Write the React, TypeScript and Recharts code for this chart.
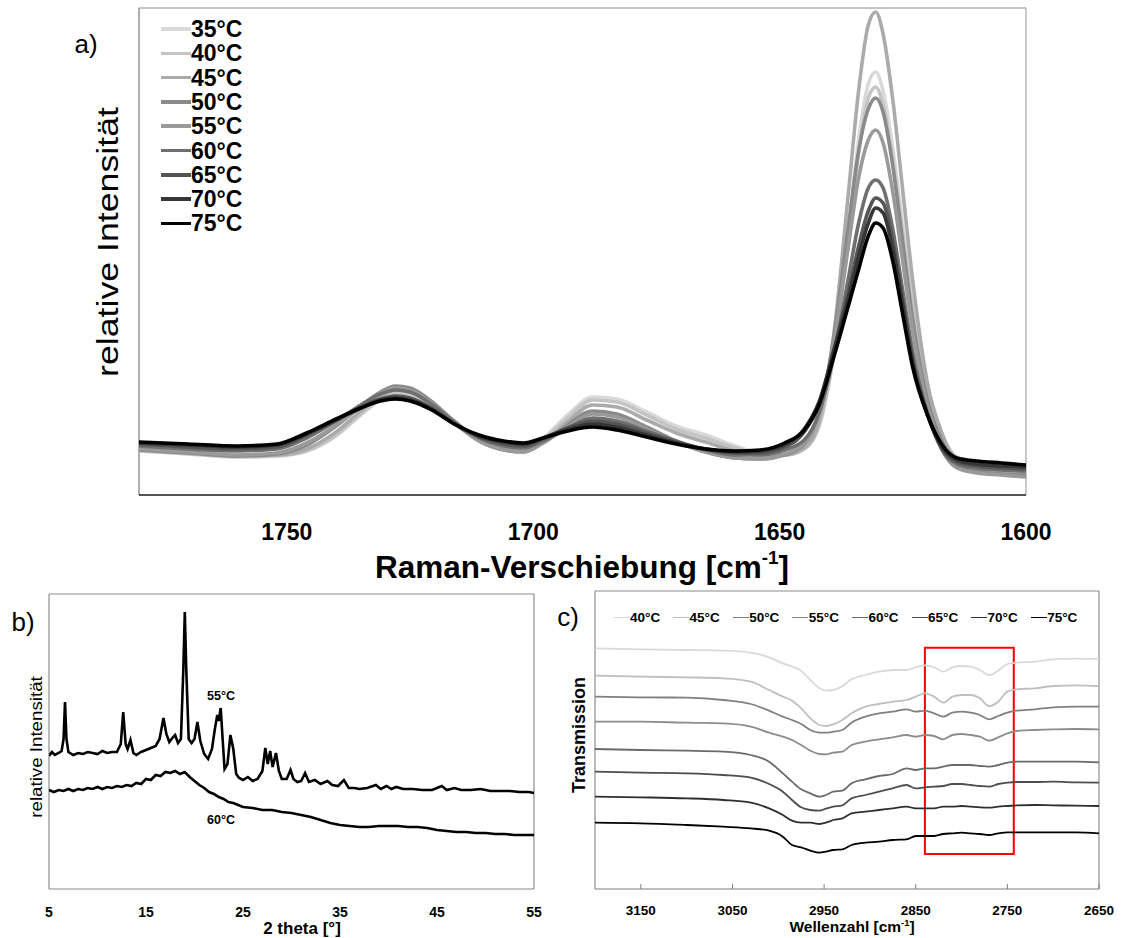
import React from 'react';
import { LineChart, Line, XAxis, YAxis, ReferenceLine, ReferenceArea } from 'recharts';

const FONT = '"Liberation Sans", Arial, Helvetica, sans-serif';

// ---------- Panel a: Raman ----------
const RAMAN_X = [1780, 1770, 1760, 1752, 1746, 1740, 1735, 1731, 1728, 1725, 1721, 1716, 1711, 1706, 1702, 1698, 1693, 1688, 1683, 1677, 1671, 1665, 1659, 1654, 1649, 1645, 1642, 1639, 1636, 1634, 1632, 1630.5, 1629, 1627, 1625, 1623, 1620, 1617, 1614, 1610, 1605, 1600];
const RAMAN_35 = [46, 43, 40, 40, 44, 59, 80, 95, 101, 100, 91, 72, 55, 47, 46, 57, 80, 98, 96, 83, 69, 60, 49, 42, 40, 46, 69, 142, 265, 354, 411, 423, 404, 346, 269, 192, 103, 59, 38, 31, 28, 27];
const RAMAN_40 = [44, 41, 38, 39, 44, 60, 81, 96, 102, 101, 92, 73, 55, 46, 45, 55, 77, 95, 93, 80, 66, 57, 47, 41, 40, 46, 69, 141, 260, 341, 397, 408, 390, 334, 260, 185, 100, 57, 36, 29, 26, 25];
const RAMAN_45 = [45, 42, 39, 40, 46, 63, 84, 99, 105, 104, 94, 74, 55, 46, 44, 53, 73, 90, 88, 75, 62, 53, 44, 40, 40, 47, 74, 161, 304, 403, 470, 483, 461, 394, 304, 215, 112, 61, 34, 26, 23, 22];
const RAMAN_50 = [45, 42, 39, 41, 50, 69, 89, 103, 109, 107, 95, 73, 54, 45, 43, 52, 70, 84, 81, 68, 54, 43, 37, 36, 40, 51, 82, 158, 270, 343, 386, 397, 383, 328, 252, 176, 95, 53, 30, 24, 21, 20];
const RAMAN_55 = [46, 43, 40, 42, 52, 70, 89, 102, 107, 105, 93, 72, 54, 45, 43, 52, 68, 81, 78, 66, 53, 43, 37, 36, 41, 52, 81, 151, 250, 316, 355, 365, 352, 302, 233, 164, 89, 45, 27, 22, 20, 18];
const RAMAN_60 = [49, 46, 44, 46, 57, 74, 90, 101, 105, 103, 92, 73, 57, 49, 47, 54, 67, 77, 74, 64, 54, 45, 40, 40, 45, 55, 82, 140, 218, 271, 307, 315, 307, 265, 204, 143, 82, 45, 31, 27, 25, 24];
const RAMAN_65 = [51, 48, 46, 48, 60, 75, 88, 96, 99, 97, 88, 71, 58, 51, 49, 56, 67, 74, 71, 62, 53, 46, 42, 42, 48, 63, 91, 145, 204, 248, 284, 297, 292, 253, 194, 135, 81, 46, 33, 29, 27, 26];
const RAMAN_70 = [52, 50, 48, 50, 61, 75, 87, 95, 97, 95, 87, 71, 59, 53, 51, 57, 66, 71, 68, 60, 52, 46, 43, 44, 50, 66, 93, 144, 198, 238, 272, 287, 282, 245, 189, 132, 80, 48, 35, 31, 29, 28];
const RAMAN_75 = [53, 51, 49, 51, 62, 76, 87, 94, 96, 94, 86, 71, 60, 54, 52, 57, 64, 68, 65, 58, 51, 46, 44, 45, 52, 65, 90, 138, 190, 225, 259, 272, 267, 233, 180, 128, 80, 50, 37, 34, 32, 30];
const RAMAN_LABELS = ['35°C', '40°C', '45°C', '50°C', '55°C', '60°C', '65°C', '70°C', '75°C'];
const RAMAN_COLORS = ['#d9d9d9', '#c4c4c4', '#ababab', '#8a8a8a', '#9a9a9a', '#6f6f6f', '#555555', '#363636', '#000000'];
const RAMAN_VALUES = [RAMAN_35, RAMAN_40, RAMAN_45, RAMAN_50, RAMAN_55, RAMAN_60, RAMAN_65, RAMAN_70, RAMAN_75];
const RAMAN_TICKS = [1750, 1700, 1650, 1600];

const ramanData = RAMAN_X.map((x, i) => {
  const row: Record<string, number> = { x };
  RAMAN_VALUES.forEach((vals, k) => { row['s' + k] = vals[i]; });
  return row;
});

// ---------- Panel b: XRD ----------
const XRD55_X = [5.0, 5.3, 5.6, 6.0, 6.3, 6.5, 6.65, 6.8, 7.0, 7.5, 8.0, 8.5, 9.0, 9.5, 10.0, 10.5, 11.0, 11.5, 12.0, 12.4, 12.65, 12.9, 13.1, 13.4, 13.7, 14.0, 14.5, 15.0, 15.5, 16.0, 16.4, 16.8, 17.1, 17.4, 17.8, 18.0, 18.3, 18.6, 18.85, 19.0, 19.15, 19.4, 19.7, 20.0, 20.3, 20.6, 21.0, 21.4, 21.8, 22.1, 22.35, 22.5, 22.7, 22.9, 23.1, 23.4, 23.7, 24.0, 24.3, 24.6, 25.0, 25.5, 26.0, 26.5, 27.0, 27.3, 27.55, 27.8, 28.05, 28.4, 28.7, 29.0, 29.5, 29.9, 30.2, 30.6, 31.0, 31.4, 31.8, 32.4, 33.0, 33.7, 34.2, 34.8, 35.4, 35.9, 36.5, 37.0, 37.8, 38.7, 39.2, 39.8, 40.3, 40.8, 41.5, 42.5, 43.5, 44.5, 45.5, 46.0, 46.8, 47.5, 48.5, 49.5, 50.5, 51.5, 52.5, 53.5, 54.5, 55.0];
const XRD55_Y = [133, 137, 134, 136, 138, 150, 187, 150, 137, 134, 136, 135, 137, 136, 135, 138, 136, 137, 137, 145, 177, 145, 140, 149, 136, 134, 137, 139, 141, 143, 150, 171, 155, 147, 152, 154, 146, 150, 220, 277, 220, 150, 146, 150, 167, 148, 135, 130, 140, 160, 174, 168, 181, 150, 120, 125, 154, 140, 115, 111, 109, 112, 108, 110, 118, 141, 125, 138, 122, 136, 118, 110, 110, 119, 110, 107, 108, 116, 107, 109, 105, 108, 104, 103, 109, 101, 101, 100, 101, 104, 100, 103, 100, 102, 100, 100, 99, 99, 103, 99, 101, 99, 99, 100, 98, 98, 98, 97, 97, 96];
const XRD60_X = [5, 5.5, 6, 6.5, 7, 7.5, 8, 8.5, 9, 9.5, 10, 10.5, 11, 11.5, 12, 12.5, 13, 13.5, 14, 14.5, 15, 15.5, 16, 16.5, 17, 17.5, 18, 18.5, 19, 19.5, 20, 20.5, 21, 21.5, 22, 22.5, 23, 23.5, 24, 25, 26, 27, 28, 29, 30, 31, 32, 33, 34, 35, 36, 37, 38, 39, 40, 41, 42, 43, 44, 45, 46, 47, 48, 49, 50, 51, 52, 53, 54, 55];
const XRD60_Y = [99, 97, 99, 98, 100, 98, 100, 99, 101, 100, 102, 100, 102, 101, 103, 102, 104, 103, 106, 105, 110, 109, 114, 113, 117, 116, 118, 115, 117, 112, 108, 104, 101, 97, 95, 92, 90, 87, 86, 82, 81, 79, 79, 77, 76, 74, 72, 69, 66, 64, 63, 62, 62, 63, 63, 63, 62, 62, 61, 59, 58, 57, 57, 56, 56, 55, 55, 54, 54, 54];
const XRD_TICKS = [5, 15, 25, 35, 45, 55];

const xrd55 = XRD55_X.map((x, i) => ({ x, y: XRD55_Y[i] }));
const xrd60 = XRD60_X.map((x, i) => ({ x, y: XRD60_Y[i] }));

// ---------- Panel c: FTIR ----------
const FTIR_X = [3200, 3150, 3100, 3060, 3030, 3010, 2995, 2985, 2975, 2965, 2955, 2948, 2940, 2930, 2920, 2905, 2890, 2875, 2860, 2850, 2840, 2830, 2820, 2810, 2800, 2790, 2780, 2770, 2760, 2750, 2740, 2720, 2700, 2675, 2650];
const FTIR_40 = [722, 719, 717, 715, 709, 695, 677, 667, 655, 627, 602, 595, 597, 609, 629, 642, 652, 657, 657, 665, 671, 665, 652, 665, 669, 667, 657, 642, 655, 675, 679, 682, 689, 691, 690];
const FTIR_45 = [640, 637, 635, 632, 622, 597, 577, 565, 542, 512, 492, 489, 494, 507, 527, 547, 555, 562, 567, 577, 587, 577, 559, 577, 582, 582, 572, 549, 562, 592, 599, 602, 609, 611, 609];
const FTIR_50 = [577, 575, 574, 567, 555, 535, 517, 507, 495, 477, 469, 469, 472, 477, 499, 517, 527, 532, 539, 532, 535, 527, 517, 529, 532, 529, 522, 509, 519, 529, 535, 539, 545, 547, 547];
const FTIR_55 = [502, 502, 499, 497, 487, 469, 457, 447, 432, 415, 405, 404, 409, 412, 432, 442, 449, 455, 462, 457, 462, 459, 449, 462, 465, 462, 457, 445, 455, 467, 474, 477, 479, 480, 479];
const FTIR_60 = [420, 417, 415, 412, 402, 382, 347, 322, 299, 287, 277, 282, 292, 295, 317, 329, 339, 345, 362, 357, 362, 362, 367, 372, 372, 372, 369, 367, 372, 379, 382, 382, 382, 382, 380];
const FTIR_65 = [352, 349, 347, 342, 334, 315, 292, 267, 245, 237, 235, 241, 247, 251, 272, 282, 292, 302, 312, 302, 305, 307, 309, 315, 315, 312, 309, 307, 315, 319, 321, 321, 322, 320, 319];
const FTIR_70 = [277, 275, 272, 267, 259, 242, 222, 205, 199, 199, 195, 199, 207, 212, 227, 232, 237, 242, 247, 242, 242, 242, 247, 247, 249, 247, 245, 244, 247, 249, 251, 252, 251, 250, 249];
const FTIR_75 = [199, 197, 192, 187, 182, 175, 157, 132, 125, 115, 109, 112, 117, 119, 132, 139, 142, 147, 149, 159, 159, 159, 165, 167, 169, 167, 165, 162, 167, 170, 170, 170, 170, 170, 167];
const FTIR_LABELS = ['40°C', '45°C', '50°C', '55°C', '60°C', '65°C', '70°C', '75°C'];
const FTIR_COLORS = ['#d9d9d9', '#bfbfbf', '#808080', '#8c8c8c', '#6a6a6a', '#4d4d4d', '#2f2f2f', '#000000'];
const FTIR_VALUES = [FTIR_40, FTIR_45, FTIR_50, FTIR_55, FTIR_60, FTIR_65, FTIR_70, FTIR_75];
const FTIR_TICKS = [3150, 3050, 2950, 2850, 2750, 2650];
const RED_BOX = { from: 2840, to: 2743, low: 105, high: 724 };

const ftirData = FTIR_X.map((x, i) => {
  const row: Record<string, number> = { x };
  FTIR_VALUES.forEach((vals, k) => { row['s' + k] = vals[i]; });
  return row;
});

const FtirTick = (props: any) => {
  const { x, y, payload } = props;
  const axisY = y - 16;
  return (
    <g>
      <line x1={x} x2={x} y1={axisY} y2={axisY - 5} stroke="#808080" strokeWidth={1} />
      <text x={x} y={y} dy="0.71em" textAnchor="middle" fill="#000" fontSize={13.5} fontWeight={700} fontFamily={FONT}>
        {payload.value}
      </text>
    </g>
  );
};

const abs = (left: number, top: number, extra: React.CSSProperties = {}): React.CSSProperties => ({
  position: 'absolute', left, top, transform: 'translate(-50%, -50%)', whiteSpace: 'nowrap', lineHeight: 1, fontFamily: FONT, color: '#000', ...extra,
});

export default function App() {
  return (
    <div style={{ position: 'absolute', left: 0, top: 0, width: 1121, height: 938, background: '#fff', overflow: 'hidden', fontFamily: FONT }}>
      {/* Panel a */}
      <div style={{ position: 'absolute', left: 0, top: 0 }}>
        <LineChart width={1121} height={600} data={ramanData} margin={{ top: 8, right: 95, bottom: 45, left: 139 }}>
          <XAxis dataKey="x" type="number" domain={[1600, 1780]} reversed ticks={RAMAN_TICKS} interval={0}
            tickLine={false} tickSize={0} tickMargin={29} height={60} allowDataOverflow
            axisLine={{ stroke: '#1a1a1a', strokeWidth: 1.5 }}
            tick={{ fill: '#000', fontSize: 23, fontWeight: 700, fontFamily: FONT }} />
          <YAxis type="number" domain={[0, 487]} hide allowDataOverflow />
          <ReferenceLine y={487} stroke="#8c8c8c" strokeWidth={1.2} />
          <ReferenceLine x={1780} stroke="#7a7a7a" strokeWidth={1.2} />
          <ReferenceLine x={1600} stroke="#a6a6a6" strokeWidth={1.2} />
          {RAMAN_VALUES.map((_, k) => (
            <Line key={k} type="monotone" dataKey={'s' + k} stroke={RAMAN_COLORS[k]} strokeWidth={3.6}
              dot={false} isAnimationActive={false} />
          ))}
        </LineChart>
      </div>
      {RAMAN_LABELS.map((lab, k) => (
        <React.Fragment key={lab}>
          <div style={{ position: 'absolute', left: 161, top: 29 + k * 24.3 - 1.8, width: 30, height: 3.6, background: RAMAN_COLORS[k] }} />
          <div style={{ position: 'absolute', left: 191, top: 29 + k * 24.3, transform: 'translateY(-50%)', fontSize: 23, fontWeight: 700, lineHeight: 1, fontFamily: FONT, whiteSpace: 'nowrap' }}>{lab}</div>
        </React.Fragment>
      ))}
      <div style={abs(86, 44, { fontSize: 26 })}>a)</div>
      <div style={abs(108, 242, { fontSize: 30, transform: 'translate(-50%, -50%) rotate(-90deg) scaleX(1.19)' })}>relative Intensität</div>
      <div style={abs(582, 568, { fontSize: 31.5, fontWeight: 700 })}>
        Raman-Verschiebung [cm<span style={{ fontSize: '0.6em', position: 'relative', top: '-0.75em' }}>-1</span>]
      </div>

      {/* Panel b */}
      <div style={{ position: 'absolute', left: 0, top: 580 }}>
        <LineChart width={560} height={358} margin={{ top: 14, right: 26, bottom: 9, left: 49 }}>
          <XAxis dataKey="x" type="number" domain={[5, 55]} ticks={XRD_TICKS} interval={0}
            tickLine={false} tickSize={0} tickMargin={18} height={40} allowDataOverflow
            axisLine={{ stroke: '#8c8c8c', strokeWidth: 1.2 }}
            tick={{ fill: '#000', fontSize: 14, fontWeight: 700, fontFamily: FONT }} />
          <YAxis type="number" domain={[0, 295]} hide allowDataOverflow />
          <ReferenceLine y={295} stroke="#8c8c8c" strokeWidth={1.2} />
          <ReferenceLine x={5} stroke="#8c8c8c" strokeWidth={1.2} />
          <ReferenceLine x={55} stroke="#8c8c8c" strokeWidth={1.2} />
          <Line data={xrd55} type="linear" dataKey="y" stroke="#000" strokeWidth={2.6} dot={false} isAnimationActive={false} />
          <Line data={xrd60} type="linear" dataKey="y" stroke="#000" strokeWidth={2.6} dot={false} isAnimationActive={false} />
        </LineChart>
      </div>
      <div style={abs(23, 622, { fontSize: 26 })}>b)</div>
      <div style={abs(37, 747, { fontSize: 16, transform: 'translate(-50%, -50%) rotate(-90deg) scaleX(1.17)' })}>relative Intensität</div>
      <div style={abs(302, 928, { fontSize: 17, fontWeight: 700 })}>2 theta [°]</div>
      <div style={abs(221, 696, { fontSize: 12.5, fontWeight: 700 })}>55°C</div>
      <div style={abs(221, 820, { fontSize: 12.5, fontWeight: 700 })}>60°C</div>

      {/* Panel c */}
      <div style={{ position: 'absolute', left: 560, top: 580 }}>
        <LineChart width={561} height={358} data={ftirData} margin={{ top: 11, right: 22, bottom: 9, left: 35 }}>
          <XAxis dataKey="x" type="number" domain={[2650, 3200]} reversed ticks={FTIR_TICKS} interval={0}
            tickLine={false} tickSize={0} tickMargin={16} height={40} allowDataOverflow
            axisLine={{ stroke: '#808080', strokeWidth: 1.2 }}
            tick={<FtirTick />} />
          <YAxis type="number" domain={[0, 894]} hide allowDataOverflow />
          <ReferenceLine y={894} stroke="#8c8c8c" strokeWidth={1.2} />
          <ReferenceLine x={3200} stroke="#8c8c8c" strokeWidth={1.2} />
          <ReferenceLine x={2650} stroke="#8c8c8c" strokeWidth={1.2} />
          {FTIR_VALUES.map((_, k) => (
            <Line key={k} type="monotone" dataKey={'s' + k} stroke={FTIR_COLORS[k]} strokeWidth={1.8}
              dot={false} isAnimationActive={false} />
          ))}
          <ReferenceArea x1={RED_BOX.from} x2={RED_BOX.to} y1={RED_BOX.low} y2={RED_BOX.high}
            fill="none" fillOpacity={0} stroke="#ff0000" strokeWidth={2} ifOverflow="visible" />
        </LineChart>
      </div>
      {FTIR_LABELS.map((lab, k) => (
        <React.Fragment key={lab}>
          <div style={{ position: 'absolute', left: 613.5 + k * 59.6, top: 616.5, width: 16, height: 1.8, background: FTIR_COLORS[k] }} />
          <div style={{ position: 'absolute', left: 630 + k * 59.6, top: 617.5, transform: 'translateY(-50%)', fontSize: 13.5, fontWeight: 700, lineHeight: 1, fontFamily: FONT, whiteSpace: 'nowrap' }}>{lab}</div>
        </React.Fragment>
      ))}
      <div style={abs(568, 617, { fontSize: 26 })}>c)</div>
      <div style={abs(578.5, 735, { fontSize: 18, fontWeight: 700, transform: 'translate(-50%, -50%) rotate(-90deg)' })}>Transmission</div>
      <div style={abs(852, 927, { fontSize: 15.5, fontWeight: 700 })}>
        Wellenzahl [cm<span style={{ fontSize: '0.6em', position: 'relative', top: '-0.7em' }}>-1</span>]
      </div>
    </div>
  );
}
